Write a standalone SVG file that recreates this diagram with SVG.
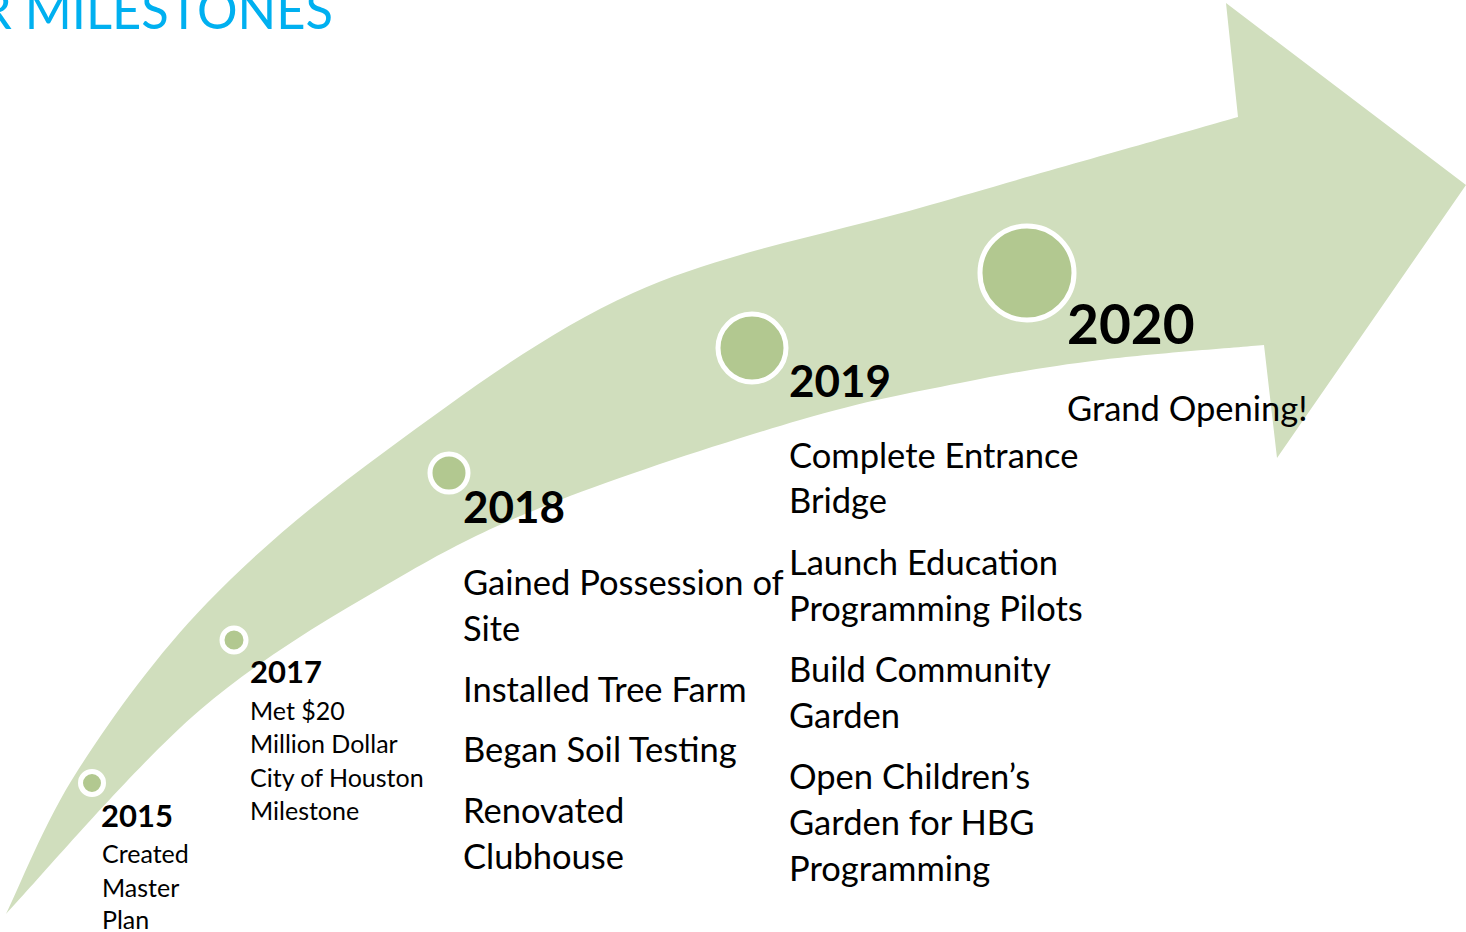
<svg xmlns="http://www.w3.org/2000/svg" width="1466" height="932" viewBox="0 0 1466 932">
<style>
.title{font-family:Lato,"Open Sans","Liberation Sans",sans-serif;font-weight:400;font-size:52px;fill:#00B0F0}
.yr{font-family:Lato,"Liberation Sans",sans-serif;font-weight:700;fill:#000}
.tx{font-family:Lato,"Liberation Sans",sans-serif;font-weight:400;fill:#000}
.s{font-size:25px}
.l{font-size:34.5px}
.dot{fill:#B2C890;stroke:#FFFFFF;stroke-width:5}
</style>
<rect width="1466" height="932" fill="#FFFFFF"/>
<text class="title" x="-20" y="29" textLength="353" lengthAdjust="spacingAndGlyphs">R MILESTONES</text>
<g id="timeline-arrow">
<path fill="#D0DEBD" d="M6,914 C18,890 44.5,821.8 78,770 C111.5,718.2 155.5,656.3 207,603 C258.5,549.7 316,501.7 387,450 C458,398.3 542.5,333.8 633,293 C723.5,252.2 829.2,234.3 930,205 C1030.8,175.7 1186.7,131.7 1238,117 L1226,3 L1466,185 L1277,458 L1264,345 C1236.7,347.5 1150.7,353.7 1100,360 C1049.3,366.3 1010,373 960,383 C910,393 866.7,400.5 800,420 C733.3,439.5 626.7,473.8 560,500 C493.3,526.2 460,542 400,577 C340,612 265.7,653.8 200,710 C134.3,766.2 38.3,880 6,914 Z"/>
</g>
<g id="connectors"/>
<g id="m2015">
<circle class="dot" cx="92" cy="783" r="11.5"/>
<text class="yr" x="101" y="827" font-size="31">2015</text>
<text class="tx s" x="102" y="863">Created</text>
<text class="tx s" x="102" y="897">Master</text>
<text class="tx s" x="102" y="929">Plan</text>
</g>
<g id="m2017">
<circle class="dot" cx="234" cy="640" r="12"/>
<text class="yr" x="250" y="683" font-size="31">2017</text>
<text class="tx s" x="250" y="720">Met $20</text>
<text class="tx s" x="250" y="753">Million Dollar</text>
<text class="tx s" x="250" y="787">City of Houston</text>
<text class="tx s" x="250" y="820">Milestone</text>
</g>
<g id="m2018">
<circle class="dot" cx="449" cy="473" r="19"/>
<text class="yr" x="463" y="523" font-size="44">2018</text>
<text class="tx l" x="463" y="595">Gained Possession of</text>
<text class="tx l" x="463" y="641">Site</text>
<text class="tx l" x="463" y="702">Installed Tree Farm</text>
<text class="tx l" x="463" y="762">Began Soil Testing</text>
<text class="tx l" x="463" y="823">Renovated</text>
<text class="tx l" x="463" y="869">Clubhouse</text>
</g>
<g id="m2019">
<circle class="dot" cx="752" cy="348" r="34"/>
<text class="yr" x="789" y="397" font-size="44">2019</text>
<text class="tx l" x="789" y="468">Complete Entrance</text>
<text class="tx l" x="789" y="513">Bridge</text>
<text class="tx l" x="789" y="575">Launch Education</text>
<text class="tx l" x="789" y="621">Programming Pilots</text>
<text class="tx l" x="789" y="682">Build Community</text>
<text class="tx l" x="789" y="728">Garden</text>
<text class="tx l" x="789" y="789">Open Children’s</text>
<text class="tx l" x="789" y="835">Garden for HBG</text>
<text class="tx l" x="789" y="881">Programming</text>
</g>
<g id="m2020">
<circle class="dot" cx="1027" cy="273" r="47"/>
<text class="yr" x="1067" y="344" font-size="55">2020</text>
<text class="tx l" x="1067" y="421">Grand Opening!</text>
</g>
</svg>
